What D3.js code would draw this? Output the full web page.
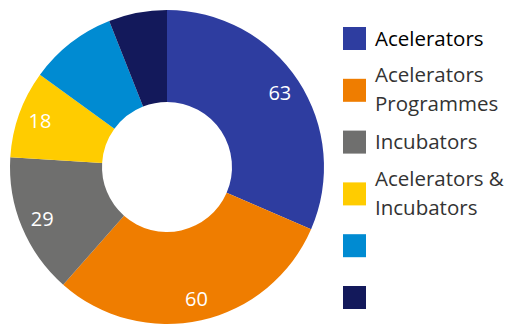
<!DOCTYPE html>
<html>
<head>
<meta charset="utf-8">
<script src="https://cdn.jsdelivr.net/npm/d3@7"></script>
<style>
  html, body { margin: 0; padding: 0; background: #fff; }
  svg { display: block; font-family: "Open Sans", sans-serif; }
</style>
</head>
<body>
<svg id="chart" width="507" height="325"></svg>
<script>
// Programme types and counts
const categories = [
  ["Acelerators"],
  ["Acelerators", "Programmes"],
  ["Incubators"],
  ["Acelerators &", "Incubators"],
  [""],
  [""]
];
const values = [63, 60, 29, 18, 18, 12];
const showLabel = [true, true, true, true, false, false];
const colors = ["#2e3da0", "#ef7d00", "#6f6f6e", "#ffcc00", "#008bd2", "#13195b"];

const svg = d3.select("#chart");
const cx = 167, cy = 167, outerR = 157, innerR = 65, labelR = 135;

const pie = d3.pie().sort(null).value(d => d)(values);
const arc = d3.arc().innerRadius(innerR).outerRadius(outerR);
const labelArc = d3.arc().innerRadius(labelR).outerRadius(labelR);

const g = svg.append("g").attr("transform", `translate(${cx},${cy})`);

g.selectAll("path.slice")
  .data(pie)
  .join("path")
  .attr("class", "slice")
  .attr("d", arc)
  .attr("fill", (d, i) => colors[i]);

g.selectAll("text.value")
  .data(pie.filter((d, i) => showLabel[i]))
  .join("text")
  .attr("class", "value")
  .attr("transform", d => `translate(${labelArc.centroid(d)})`)
  .attr("text-anchor", "middle")
  .attr("dy", "0.36em")
  .attr("fill", "#fff")
  .attr("font-size", 20)
  .text(d => d.data);

// Legend
const legendX = 343, legendY0 = 38.5, legendStep = 51.8, swatch = 23, lineH = 29;
const items = svg.append("g").selectAll("g.item")
  .data(categories)
  .join("g")
  .attr("class", "item")
  .attr("transform", (d, i) => `translate(${legendX},${legendY0 + i * legendStep})`);

items.append("rect")
  .attr("x", 0)
  .attr("y", -swatch / 2)
  .attr("width", swatch)
  .attr("height", swatch)
  .attr("fill", (d, i) => colors[i]);

items.each(function(lines, i) {
  const t = d3.select(this).append("text")
    .attr("x", 32)
    .attr("font-size", 20.5)
    .attr("fill", i === 0 ? "#000" : "#333");
  const first = lines.length > 1 ? -8.2 : 7.3;
  lines.forEach((line, j) => {
    t.append("tspan").attr("x", 32).attr("y", first + j * lineH).text(line);
  });
});
</script>
</body>
</html>
